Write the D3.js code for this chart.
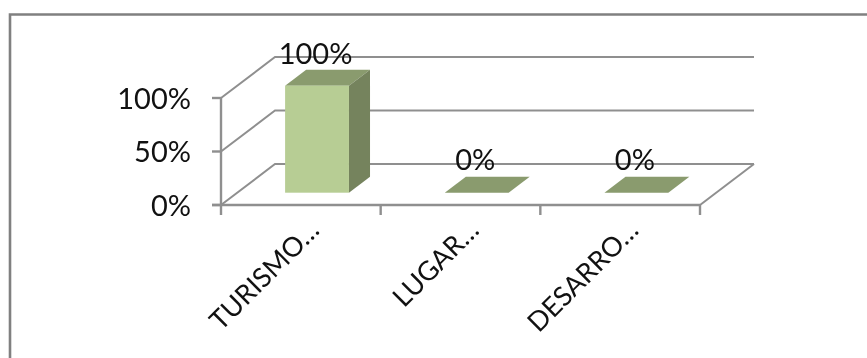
<!DOCTYPE html>
<html><head><meta charset="utf-8">
<script src="https://cdn.jsdelivr.net/npm/d3@7/dist/d3.min.js"></script>
<style>html,body{margin:0;padding:0;background:#fff}svg{display:block;filter:blur(.6px)}text{font-family:Lato,"Open Sans",sans-serif;fill:#111}</style>
</head><body><script>
const categories=["TURISMO…","LUGAR…","DESARRO…"];
const values=[100,0,0];
const labels=["100%","0%","0%"];
const yTicks=[0,50,100];

const W=867,H=358;
const svg=d3.select("body").append("svg").attr("width",W).attr("height",H);
const x=d3.scaleBand().domain(categories).range([221,700]).paddingInner(.6).paddingOuter(.3);
const xEdges=d3.scaleLinear().domain([0,3]).range([221,700]);
const y=d3.scaleLinear().domain([0,100]).range([205,98]);
const depth={x:d3.scaleLinear().domain([0,1]).range([0,54]),y:d3.scaleLinear().domain([0,1]).range([0,-41])};
const px=(a,d)=>a+depth.x(d), py=(b,d)=>b+depth.y(d);
const axisC="#8f8f8f";

svg.append("path").attr("d",`M10 ${H}V14.5H${W}`).attr("fill","none").attr("stroke","#808080").attr("stroke-width",2.6);

// walls and gridlines
yTicks.forEach(t=>{
  svg.append("path").attr("fill","none").attr("stroke",axisC).attr("stroke-width",2)
    .attr("d",`M${x.range()[0]} ${y(t)}L${px(221,1)} ${py(y(t),1)}H${px(700,1)}`);
});
svg.append("line").attr("x1",700).attr("y1",205).attr("x2",px(700,1)).attr("y2",py(205,1)).attr("stroke",axisC).attr("stroke-width",2);

// axes
svg.append("line").attr("x1",221).attr("x2",221).attr("y1",y(100)).attr("y2",y(0)).attr("stroke",axisC).attr("stroke-width",2.4);
svg.append("line").attr("x1",212).attr("x2",700).attr("y1",205).attr("y2",205).attr("stroke",axisC).attr("stroke-width",2.4);
yTicks.forEach(t=>{
  svg.append("line").attr("x1",212).attr("x2",221).attr("y1",y(t)).attr("y2",y(t)).attr("stroke",axisC).attr("stroke-width",2.4);
  svg.append("text").attr("x",191).attr("y",y(t)+10.5).attr("text-anchor","end").attr("font-size",29).text(t+"%");
});
d3.range(4).forEach(i=>{
  svg.append("line").attr("x1",xEdges(i)).attr("x2",xEdges(i)).attr("y1",205).attr("y2",215).attr("stroke",axisC).attr("stroke-width",2.4);
});

// bars
const d0=.3,d1=.69;
const h=d=>y(0)-y(d);
categories.forEach((c,i)=>{
  const v=values[i],l=x(c),r=l+x.bandwidth();
  const fb=py(205,d0), ft=fb-h(v), dxx=depth.x(d1-d0), dyy=depth.y(d1-d0);
  const L=px(l,d0),R=px(r,d0);
  svg.append("path").attr("fill","#8a9b6e").attr("d",`M${L} ${ft}L${L+dxx} ${ft+dyy}H${R+dxx}L${R} ${ft}Z`);
  if(v>0){
    svg.append("path").attr("fill","#75835d").attr("d",`M${R} ${ft}L${R+dxx} ${ft+dyy}V${fb+dyy}L${R} ${fb}Z`);
    svg.append("rect").attr("x",L).attr("y",ft).attr("width",R-L).attr("height",fb-ft).attr("fill","#b7cd94");
  }
  svg.append("text").attr("x",(L+R)/2-1.5).attr("y",v>0?64:169.5).attr("text-anchor","middle").attr("font-size",29).text(labels[i]);
  const ax=xEdges(i+.5)+20, ay=232;
  svg.append("text").attr("transform",`translate(${ax},${ay}) rotate(-45)`).attr("text-anchor","end").attr("font-size",27).text(c);
});
</script></body></html>
